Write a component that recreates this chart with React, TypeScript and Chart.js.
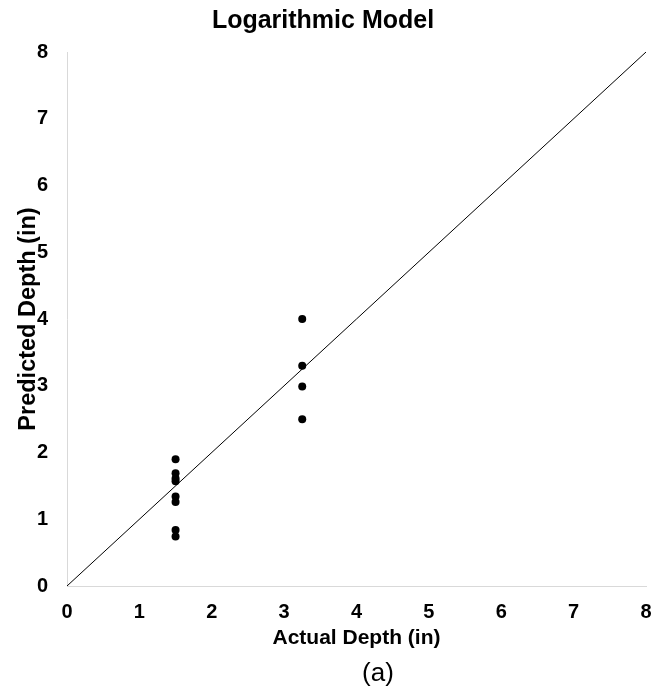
import React, { useEffect, useRef } from "react";
import { Chart, registerables } from "chart.js";

Chart.register(...registerables);

const actualDepth = [1.5, 1.5, 1.5, 1.5, 1.5, 1.5, 1.5, 1.5, 3.25, 3.25, 3.25, 3.25];
const predictedDepth = [1.9, 1.69, 1.61, 1.57, 1.34, 1.26, 0.84, 0.74, 4.0, 3.3, 2.99, 2.5];
const lineX = [0, 8];
const lineY = [0, 8];
const chartTitle = "Logarithmic Model";
const xTitle = "Actual Depth (in)";
const yTitle = "Predicted Depth (in)";
const caption = "(a)";

const FONT = '"Liberation Sans", Arial, Helvetica, sans-serif';

const captionPlugin = {
  id: "caption",
  afterDraw(chart: any) {
    const ctx = chart.ctx;
    ctx.save();
    ctx.font = `26px ${FONT}`;
    ctx.fillStyle = "#000";
    ctx.textAlign = "center";
    ctx.textBaseline = "middle";
    ctx.fillText(caption, 378, 674);
    ctx.restore();
  },
};

export default function App() {
  const ref = useRef<HTMLCanvasElement | null>(null);
  useEffect(() => {
    if (!ref.current) return;
    const pts = actualDepth.map((x, i) => ({ x, y: predictedDepth[i] }));
    const line = lineX.map((x, i) => ({ x, y: lineY[i] }));
    const chart = new Chart(ref.current, {
      type: "scatter",
      data: {
        datasets: [
          {
            data: pts,
            pointRadius: 4,
            pointHoverRadius: 4,
            backgroundColor: "#000",
            borderColor: "#000",
            borderWidth: 0,
          },
          {
            data: line,
            showLine: true,
            pointRadius: 0,
            borderColor: "#000",
            borderWidth: 1,
            fill: false,
          } as any,
        ],
      },
      options: {
        responsive: false,
        animation: false,
        layout: { padding: { left: 0, right: 7, top: 0, bottom: 0 } },
        plugins: {
          legend: { display: false },
          tooltip: { enabled: false },
          title: {
            display: true,
            text: chartTitle,
            color: "#000",
            font: { family: FONT, size: 25, weight: "bold" },
            padding: { top: 6.4, bottom: 15.6 },
          },
        },
        scales: {
          x: {
            type: "linear",
            min: 0,
            max: 8,
            grid: { display: false, drawTicks: false },
            border: { display: true, color: "#d9d9d9", width: 1 },
            ticks: {
              stepSize: 1,
              padding: 14,
              color: "#000",
              font: { family: FONT, size: 20, weight: "bold" },
            },
            title: {
              display: true,
              text: xTitle,
              color: "#000",
              font: { family: FONT, size: 21, weight: "bold" },
              padding: { top: 0, bottom: 45.4 },
            },
            afterFit: (s: any) => {
              s.height = 110;
              s.paddingRight = 0;
              s.paddingLeft = 0;
            },
          },
          y: {
            type: "linear",
            min: 0,
            max: 8,
            grid: { display: false, drawTicks: false },
            border: { display: true, color: "#d9d9d9", width: 1 },
            ticks: {
              stepSize: 1,
              padding: 19,
              color: "#000",
              font: { family: FONT, size: 20, weight: "bold" },
            },
            title: {
              display: true,
              text: yTitle,
              color: "#000",
              font: { family: FONT, size: 23.5, weight: "bold" },
              padding: { top: 14, bottom: 0 },
            },
            afterFit: (s: any) => {
              s.width = 67;
            },
          },
        },
      } as any,
      plugins: [captionPlugin],
    });
    return () => chart.destroy();
  }, []);
  return (
    <div style={{ position: "absolute", left: 0, top: 0, width: 653, height: 696, background: "#fff" }}>
      <canvas ref={ref} width={653} height={696} style={{ display: "block" }} />
    </div>
  );
}
